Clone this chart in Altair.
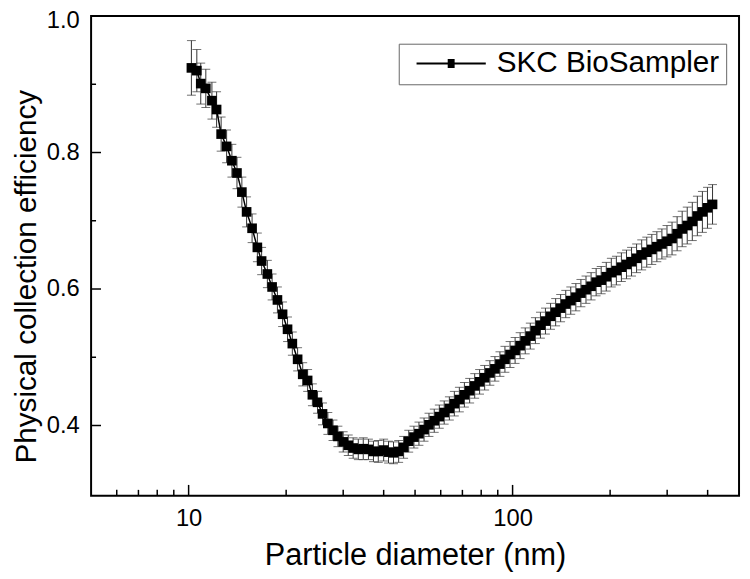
import altair as alt
import pandas as pd

# Particle diameter (nm), SMPS channel midpoints
diam = [10.2, 10.6, 10.9, 11.3, 11.8, 12.2, 12.6, 13.1, 13.6, 14.1,
        14.6, 15.1, 15.7, 16.3, 16.8, 17.5, 18.1, 18.8, 19.5, 20.2,
        20.9, 21.7, 22.5, 23.3, 24.1, 25.0, 25.9, 26.9, 27.9, 28.9,
        30.0, 31.1, 32.2, 33.4, 34.6, 35.9, 37.2, 38.5, 40.0, 41.4,
        42.9, 44.5, 46.1, 47.8, 49.6, 51.4, 53.3, 55.2, 57.3, 59.4,
        61.5, 63.8, 66.1, 68.5, 71.0, 73.7, 76.4, 79.1, 82.0, 85.1,
        88.2, 91.4, 94.7, 98.2, 101.8, 105.5, 109.4, 113.4, 117.6, 121.9,
        126.3, 131.0, 135.8, 140.7, 145.9, 151.2, 156.8, 162.5, 168.5, 174.7,
        181.1, 187.7, 194.6, 201.7, 209.1, 216.7, 224.7, 232.9, 241.4, 250.3,
        259.5, 269.0, 278.8, 289.0, 299.6, 310.6, 322.0, 333.8, 346.0, 358.7,
        371.8, 385.4, 399.5, 414.2]

# Physical collection efficiency
eff = [0.924, 0.920, 0.901, 0.894, 0.876, 0.863, 0.827, 0.809, 0.788, 0.770,
       0.742, 0.713, 0.689, 0.661, 0.641, 0.622, 0.603, 0.584, 0.563, 0.541,
       0.520, 0.497, 0.475, 0.466, 0.445, 0.434, 0.417, 0.403, 0.393, 0.384,
       0.376, 0.371, 0.367, 0.365, 0.366, 0.365, 0.362, 0.362, 0.364, 0.361,
       0.360, 0.362, 0.368, 0.377, 0.383, 0.388, 0.394, 0.401, 0.407, 0.413,
       0.419, 0.425, 0.432, 0.438, 0.445, 0.451, 0.458, 0.464, 0.470, 0.477,
       0.483, 0.490, 0.497, 0.504, 0.510, 0.517, 0.524, 0.531, 0.539, 0.547,
       0.553, 0.560, 0.566, 0.572, 0.578, 0.583, 0.588, 0.594, 0.599, 0.604,
       0.610, 0.613, 0.618, 0.624, 0.627, 0.632, 0.636, 0.640, 0.645, 0.650,
       0.654, 0.658, 0.662, 0.666, 0.670, 0.674, 0.681, 0.688, 0.693, 0.699,
       0.707, 0.713, 0.719, 0.724]

# Error (+/-)
err = [0.040, 0.031, 0.030, 0.028, 0.027, 0.026, 0.025, 0.024, 0.024, 0.023,
       0.022, 0.022, 0.021, 0.021, 0.020, 0.020, 0.019, 0.019, 0.018, 0.018,
       0.017, 0.017, 0.017, 0.016, 0.016, 0.016, 0.016, 0.016, 0.015, 0.015,
       0.015, 0.015, 0.015, 0.015, 0.016, 0.015, 0.015, 0.016, 0.016, 0.016,
       0.016, 0.016, 0.016, 0.016, 0.016, 0.017, 0.017, 0.017, 0.017, 0.017,
       0.017, 0.017, 0.018, 0.018, 0.018, 0.018, 0.018, 0.018, 0.018, 0.018,
       0.018, 0.018, 0.019, 0.019, 0.019, 0.019, 0.019, 0.019, 0.019, 0.019,
       0.019, 0.019, 0.020, 0.020, 0.020, 0.020, 0.020, 0.020, 0.020, 0.020,
       0.020, 0.020, 0.021, 0.021, 0.021, 0.021, 0.021, 0.021, 0.021, 0.022,
       0.022, 0.022, 0.022, 0.022, 0.023, 0.024, 0.025, 0.026, 0.027, 0.028,
       0.029, 0.030, 0.030, 0.029]

series_name = "SKC BioSampler"
x_major = [10, 100]
x_minor = [6, 7, 8, 9, 20, 30, 40, 50, 60, 70, 80, 90, 200, 300, 400]
y_major = [0.4, 0.6, 0.8, 1.0]
y_minor = [0.5, 0.7, 0.9]

df = pd.DataFrame({"d": diam, "eff": eff, "err": err})
df["lo"] = df["eff"] - df["err"]
df["hi"] = df["eff"] + df["err"]
df["series"] = series_name

W, H = 655, 485
FONT = "Liberation Sans"

xscale = alt.Scale(type="log", domain=[5, 500], nice=False)
yscale = alt.Scale(domain=[0.297, 1.0], nice=False, zero=False)

xaxis = alt.Axis(values=x_major, format="d", title="Particle diameter (nm)",
                 ticks=False, tickSize=0, domain=False, grid=False,
                 labelFontSize=24, labelFont=FONT, labelColor="black",
                 labelPadding=11, titleFontSize=31, titleFont=FONT,
                 titleFontWeight="normal", titleColor="black",
                 titleY=69, titleBaseline="alphabetic")
yaxis = alt.Axis(values=y_major, format=".1f",
                 title="Physical collection efficiency",
                 ticks=False, tickSize=0, domain=False, grid=False,
                 labelFontSize=24, labelFont=FONT, labelColor="black",
                 labelPadding=12,
                 labelOffset=alt.condition("datum.value >= 0.99",
                                           alt.value(5), alt.value(0)),
                 titleFontSize=30, titleFont=FONT,
                 titleFontWeight="normal", titleColor="black",
                 titleAngle=270, titleX=-56, titleY=263,
                 titleAlign="center", titleBaseline="alphabetic")

X = alt.X("d:Q", scale=xscale, axis=xaxis)
Y = alt.Y("eff:Q", scale=yscale, axis=yaxis)

base = alt.Chart(df)

bars = base.mark_rule(color="#333333", strokeWidth=1).encode(
    x=X, y=alt.Y("lo:Q", scale=yscale, axis=yaxis), y2="hi:Q")
cap_lo = base.mark_tick(color="#333333", orient="horizontal", size=9,
                        thickness=1).encode(
    x=X, y=alt.Y("lo:Q", scale=yscale, axis=yaxis))
cap_hi = base.mark_tick(color="#333333", orient="horizontal", size=9,
                        thickness=1).encode(
    x=X, y=alt.Y("hi:Q", scale=yscale, axis=yaxis))

legend_path = ("M-1,0H1M-0.1,-0.1H0.1M-0.1,-0.05H0.1M-0.1,0H0.1"
               "M-0.1,0.05H0.1M-0.1,0.1H0.1")

line = base.mark_line(strokeWidth=1.5).encode(
    x=X, y=Y,
    color=alt.Color("series:N",
                    scale=alt.Scale(domain=[series_name], range=["black"]),
                    legend=alt.Legend(title=None, orient="none",
                                      legendX=311, legendY=28,
                                      symbolType=legend_path,
                                      symbolSize=4900,
                                      symbolStrokeWidth=2,
                                      symbolStrokeColor="black",
                                      labelFontSize=30, labelFont=FONT,
                                      labelColor="black", labelLimit=500,
                                      padding=6, strokeColor="#666666",
                                      fillColor="white", labelOffset=10,
                                      symbolOffset=11, clipHeight=28)))

pts = base.mark_point(shape="square", filled=True, size=95, color="black",
                      opacity=1).encode(x=X, y=Y)

xmaj_df = pd.DataFrame({"d": x_major})
xmin_df = pd.DataFrame({"d": x_minor})
ymaj_df = pd.DataFrame({"eff": y_major})
ymin_df = pd.DataFrame({"eff": y_minor})

xt_major = alt.Chart(xmaj_df).mark_rule(color="black", strokeWidth=1.5).encode(
    x=X, y=alt.value(H), y2=alt.value(H - 11))
xt_minor = alt.Chart(xmin_df).mark_rule(color="black", strokeWidth=1.5).encode(
    x=X, y=alt.value(H), y2=alt.value(H - 6))
yt_major = alt.Chart(ymaj_df).mark_rule(color="black", strokeWidth=1.5).encode(
    y=Y, x=alt.value(0), x2=alt.value(10))
yt_minor = alt.Chart(ymin_df).mark_rule(color="black", strokeWidth=1.5).encode(
    y=Y, x=alt.value(0), x2=alt.value(5))

chart = alt.layer(
    bars, cap_lo, cap_hi, line, pts, xt_major, xt_minor, yt_major, yt_minor
).properties(
    width=W, height=H,
    autosize=alt.AutoSizeParams(type="none"),
    padding={"left": 84, "top": 5, "right": 3, "bottom": 81},
).configure(
    font=FONT, background="white",
    view=alt.ViewConfig(stroke="black", strokeWidth=2),
)

chart.save("out.html", embed_options={"renderer": "svg", "actions": False})
